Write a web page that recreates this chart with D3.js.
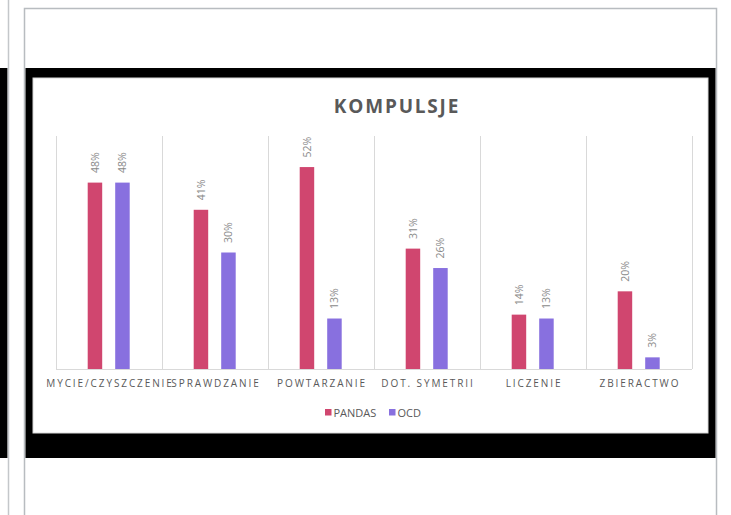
<!DOCTYPE html>
<html>
<head>
<meta charset="utf-8">
<script src="https://cdn.jsdelivr.net/npm/d3@7"></script>
<style>
  html, body { margin: 0; padding: 0; background: #ffffff; }
  svg { display: block; }
</style>
</head>
<body>
<script>
// Kompulsje: PANDAS vs OCD, share of patients per compulsion type
const categories = ["MYCIE/CZYSZCZENIE", "SPRAWDZANIE", "POWTARZANIE", "DOT. SYMETRII", "LICZENIE", "ZBIERACTWO"];
const seriesNames = ["PANDAS", "OCD"];
const pandasValues = [48, 41, 52, 31, 14, 20];
const ocdValues = [48, 30, 13, 26, 13, 3];
const seriesColors = ["#d0466f", "#8870df"];
const titleText = "KOMPULSJE";

const W = 731, H = 515;
const svg = d3.select("body").append("svg").attr("width", W).attr("height", H);

// page frame: slide thumbnails with black letterbox bands
svg.append("rect").attr("x", 0).attr("y", 68).attr("width", 7.5).attr("height", 390).attr("fill", "#000");
svg.append("line").attr("x1", 8.5).attr("x2", 8.5).attr("y1", 0).attr("y2", H).attr("stroke", "#c4c7ca").attr("stroke-width", 1.5);
svg.append("rect").attr("x", 24.5).attr("y", 8.5).attr("width", 692).attr("height", H).attr("fill", "none").attr("stroke", "#b8bcc0").attr("stroke-width", 1.5);
svg.append("rect").attr("x", 25.5).attr("y", 68).attr("width", 690).attr("height", 390).attr("fill", "#000");
svg.append("rect").attr("x", 33).attr("y", 78).attr("width", 675).attr("height", 355).attr("fill", "#fff").attr("stroke", "#d8d8d8").attr("stroke-width", 1);

const rows = categories.map((c, i) => ({ cat: c, values: [pandasValues[i], ocdValues[i]] }));

// scales
const x0 = d3.scaleBand().domain(categories).range([56, 692]).paddingInner(0).paddingOuter(0);
const x1 = d3.scaleBand().domain(seriesNames).range([31.7, 73.7]).paddingInner(13 / 27.5).paddingOuter(0);
const y = d3.scaleLinear().domain([0, 60]).range([369, 136]);
const color = d3.scaleOrdinal().domain(seriesNames).range(seriesColors);

const fontFam = "'Open Sans', 'Liberation Sans', sans-serif";

// title
svg.append("text")
  .attr("x", 397).attr("y", 112.5)
  .attr("text-anchor", "middle")
  .attr("font-family", fontFam).attr("font-weight", 700)
  .attr("font-size", 19).attr("letter-spacing", 1.8)
  .attr("fill", "#595959")
  .text(titleText);

// vertical category separators
const bounds = categories.map(c => x0(c)).concat([x0.range()[1]]);
svg.append("g").selectAll("line").data(bounds).join("line")
  .attr("x1", d => d + 0.5).attr("x2", d => d + 0.5)
  .attr("y1", y(60)).attr("y2", y(0))
  .attr("stroke", "#d9d9d9").attr("stroke-width", 1);

// category axis
const xAxis = d3.axisBottom(x0).tickSize(0).tickPadding(11);
const gx = svg.append("g").attr("transform", `translate(0,${y(0)})`).call(xAxis);
gx.select(".domain").attr("stroke", "#d9d9d9").attr("d", `M${x0.range()[0]},0.5H${x0.range()[1]}`);
gx.selectAll(".tick text")
  .attr("font-family", fontFam).attr("font-size", 10)
  .attr("letter-spacing", 1.9).attr("fill", "#595959")
  .attr("dx", "1");

// bars
const groups = svg.append("g").selectAll("g").data(rows).join("g")
  .attr("transform", d => `translate(${x0(d.cat)},0)`);

groups.selectAll("rect").data(d => d.values.map((v, i) => ({ key: seriesNames[i], v })))
  .join("rect")
  .attr("x", d => x1(d.key))
  .attr("width", x1.bandwidth())
  .attr("y", d => y(d.v))
  .attr("height", d => y(0) - y(d.v))
  .attr("fill", d => color(d.key));

// rotated value labels
groups.selectAll("text.val").data(d => d.values.map((v, i) => ({ key: seriesNames[i], v })))
  .join("text")
  .attr("class", "val")
  .attr("transform", d => `translate(${x1(d.key) + x1.bandwidth() / 2},${y(d.v) - 9.5}) rotate(-90)`)
  .attr("dominant-baseline", "central")
  .attr("font-family", fontFam).attr("font-size", 10.5)
  .attr("fill", "#8a8a8a")
  .text(d => d.v + "%");

// legend
const legend = svg.append("g").attr("transform", "translate(325,412.5)");
const legendX = [0, 64];
seriesNames.forEach((s, i) => {
  const g = legend.append("g").attr("transform", `translate(${legendX[i]},0)`);
  g.append("rect").attr("x", 0).attr("y", -3.5).attr("width", 6.5).attr("height", 6.5).attr("fill", color(s));
  g.append("text").attr("x", 8.5).attr("y", 0)
    .attr("dominant-baseline", "central")
    .attr("font-family", fontFam).attr("font-size", 11)
    .attr("fill", "#595959")
    .text(s);
});
</script>
</body>
</html>
